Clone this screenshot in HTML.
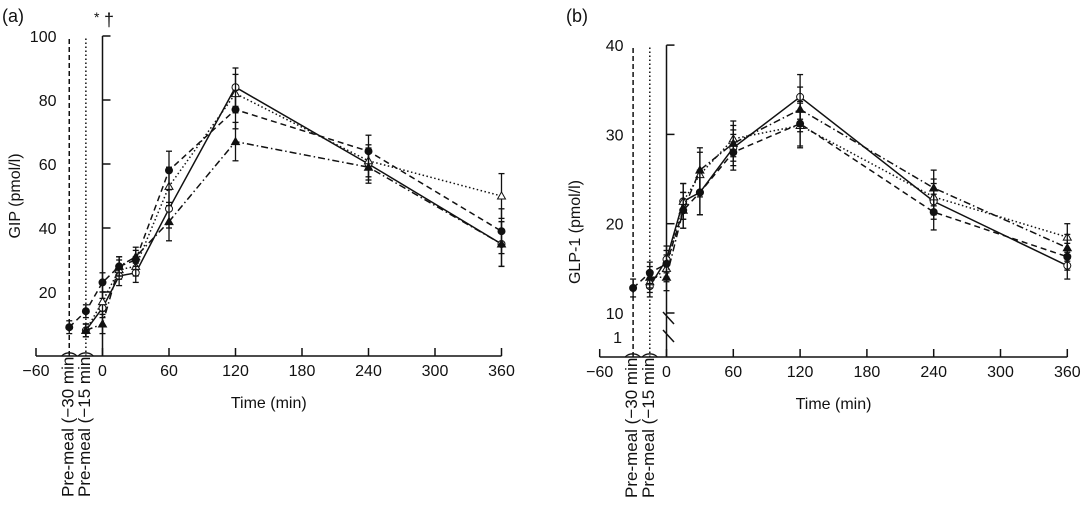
<!DOCTYPE html>
<html><head><meta charset="utf-8"><style>
body{margin:0;background:#fff}
svg{display:block;font-family:"Liberation Sans",sans-serif}
</style></head><body>
<svg id="chart" width="1082" height="505" viewBox="0 0 1082 505"></svg>
<script>
const times = [-30,-15,0,15,30,60,120,240,360];
const xTicks = [-60,0,60,120,180,240,300,360];
const xTickLabels = ['−60','0','60','120','180','240','300','360'];
// Panel a (GIP)
const aTicks = [20,40,60,80,100];
const aSolid = [null,8,15,25,26,46,84,60,35];
const aDotted = [null,8,17,27,28,53,82,61,50];
const aDashed = [9,14,23,28,30,58,77,64,39];
const aDashDot = [null,8,10,28,31,42,67,59,35];
const aErr = [2,2,3,3,3,6,6,5,7];
// Panel b (GLP-1)
const bTicks = [10,20,30,40];
const bSolid = [null,13,16,22.5,23.5,28.5,34.2,22.5,15.3];
const bDotted = [null,13.5,15,22.5,25.5,29.5,31,23,18.5];
const bDashed = [12.8,14.5,15.5,21.5,23.5,28,31.2,21.3,16.3];
const bDashDot = [null,14,14,21.5,26,29,32.8,24,17.3];
const bErr = [1,1.2,1.5,2,2.5,2,2.5,2,1.5];

const NS='http://www.w3.org/2000/svg';
const svg=document.getElementById('chart');
function mk(tag,attrs,parent){const e=document.createElementNS(NS,tag);for(const k in attrs)e.setAttribute(k,attrs[k]);(parent||svg).appendChild(e);return e;}
const styles=[
 {key:'solid',dash:'',marker:'circle',fill:'#fff'},
 {key:'dotted',dash:'1.5 2.5',marker:'tri',fill:'#fff'},
 {key:'dashed',dash:'6 4',marker:'circle',fill:'#111'},
 {key:'dashdot',dash:'7 3 1.5 3',marker:'tri',fill:'#111'}
];
function panel(cfg){
 const g=mk('g',{});
 
 
 const X=t=>cfg.x0+(t)*cfg.xs;
 const Y=cfg.Y;
 const xa=mk('line',{x1:X(-60),x2:X(360),y1:cfg.axisY,y2:cfg.axisY,stroke:'#111','stroke-width':1.5},g);
 
 xTicks.forEach((t,i)=>{
  mk('line',{x1:X(t),x2:X(t),y1:cfg.axisY,y2:cfg.axisY-8,stroke:'#111','stroke-width':1.5},g);
  const tx=mk('text',{x:X(t),y:cfg.axisY+20,'text-anchor':'middle','font-size':16,fill:'#111'},g);
  tx.textContent=xTickLabels[i];
  
 });
 const xt=mk('text',{x:X(150),y:cfg.axisY+52,'text-anchor':'middle','font-size':16,fill:'#111'},g);
 xt.textContent='Time (min)';
 
 const ya=mk('line',{x1:X(0),x2:X(0),y1:cfg.yAxisBottom,y2:Y(cfg.ticks[cfg.ticks.length-1]),stroke:'#111','stroke-width':1.5},g);
 
 cfg.ticks.forEach(v=>{
  mk('line',{x1:X(0),x2:X(0)+8,y1:Y(v),y2:Y(v),stroke:'#111','stroke-width':1.5},g);
  const tx=mk('text',{x:cfg.x0-cfg.lblOff,y:Y(v)+6,'text-anchor':'end','font-size':16,fill:'#111'},g);
  tx.textContent=v;
  
 });
 const yt=mk('text',{transform:`translate(${cfg.ytX},${cfg.ytY}) rotate(-90)`,'text-anchor':'middle','font-size':16,fill:'#111'},g);
 yt.textContent=cfg.ytitle;
 
 [[-30,'5 3','Pre-meal (−30 min)'],[-15,'1.5 2.5','Pre-meal (−15 min)']].forEach(p=>{
  const l=mk('line',{x1:X(p[0]),x2:X(p[0]),y1:cfg.axisY,y2:Y(cfg.ticks[cfg.ticks.length-1]),stroke:'#111','stroke-width':1.5,'stroke-dasharray':p[1]},g);
  
  const t=mk('text',{transform:`translate(${X(p[0])+4},${cfg.axisY+141}) rotate(-90)`,'font-size':17,fill:'#111'},g);
  t.textContent=p[2];
  
 });
 cfg.series.forEach((vals,si)=>{
  const st=styles[si];
  const sg=mk('g',{},g);
  
  const pts=[];
  vals.forEach((v,i)=>{if(v!=null)pts.push([X(times[i]),Y(v),Y(v+cfg.err[i]),Y(v-cfg.err[i])]);});
  const pl=mk('polyline',{points:pts.map(p=>p[0]+','+p[1]).join(' '),fill:'none',stroke:'#111','stroke-width':1.5,'stroke-dasharray':st.dash},sg);
  
  pts.forEach(p=>{
   mk('line',{x1:p[0],x2:p[0],y1:p[2],y2:p[3],stroke:'#111','stroke-width':1.3},sg);
   mk('line',{x1:p[0]-3,x2:p[0]+3,y1:p[2],y2:p[2],stroke:'#111','stroke-width':1.3},sg);
   mk('line',{x1:p[0]-3,x2:p[0]+3,y1:p[3],y2:p[3],stroke:'#111','stroke-width':1.3},sg);
   let m;
   if(st.marker==='circle')m=mk('circle',{cx:p[0],cy:p[1],r:3.5,fill:st.fill,stroke:'#111','stroke-width':1},sg);
   else m=mk('polygon',{points:`${p[0]},${p[1]-4} ${p[0]-4},${p[1]+3} ${p[0]+4},${p[1]+3}`,fill:st.fill,stroke:'#111','stroke-width':1},sg);
   
  });
 });
 const pl=mk('text',{x:cfg.plX,y:22,'font-size':18,fill:'#111'},g);
 pl.textContent=cfg.label;
 
 return {g,X,Y};
}
const pa=panel({name:'panel-a',x0:102.5,xs:66.5/60,axisY:356,yAxisBottom:356,Y:v=>356-v*3.2,ticks:aTicks,lblOff:46,
 ytX:20,ytY:196,ytitle:'GIP (pmol/l)',series:[aSolid,aDotted,aDashed,aDashDot],err:aErr,plX:2,label:'(a)'});
const sa=mk('text',{x:94,y:22,'font-size':14,fill:'#111'});sa.textContent='*';

const sb=mk('text',{x:104,y:26,'font-size':18,fill:'#111'});sb.textContent='†';

const pb=panel({name:'panel-b',x0:666.5,xs:66.8/60,axisY:357,yAxisBottom:357,Y:v=>v>=10?313-(v-10)*8.93:337,ticks:bTicks,lblOff:43,
 ytX:580,ytY:232,ytitle:'GLP-1 (pmol/l)',series:[bSolid,bDotted,bDashed,bDashDot],err:bErr,plX:566,label:'(b)'});
const one=mk('text',{x:622,y:343,'text-anchor':'end','font-size':16,fill:'#111'});one.textContent='1';

[[312],[330]].forEach(b=>{
 const l=mk('line',{x1:663,x2:674,y1:b[0],y2:b[0]+12,stroke:'#111','stroke-width':1.5});
 
});
</script>
</body></html>
